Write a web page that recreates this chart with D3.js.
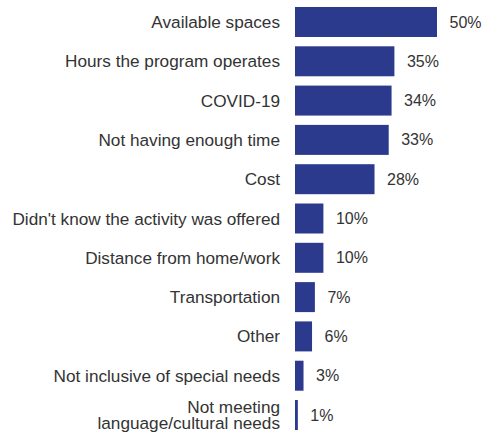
<!DOCTYPE html>
<html><head><meta charset="utf-8">
<script src="https://cdn.jsdelivr.net/npm/d3@7"></script>
<style>body{margin:0;background:#fff}svg{display:block}</style>
</head><body>
<script>
const categories = ["Available spaces","Hours the program operates","COVID-19","Not having enough time","Cost","Didn't know the activity was offered","Distance from home/work","Transportation","Other","Not inclusive of special needs","Not meeting\nlanguage/cultural needs"];
const values = [50,35,34,33,28,10,10,7,6,3,1];
const labels = ["50%","35%","34%","33%","28%","10%","10%","7%","6%","3%","1%"];

const W=485,H=433;
const svg=d3.select("body").append("svg").attr("width",W).attr("height",H);
const x=d3.scaleLinear().domain([0,50]).range([295,437]);
const y=d3.scaleBand().domain(categories).range([2.35,434.65]).paddingInner(0.237).paddingOuter(0.118);
const color="#2b3a8c";
const font="'Liberation Sans', Arial, sans-serif";

svg.selectAll("rect").data(values).join("rect")
  .attr("x",x(0)).attr("y",(d,i)=>y(categories[i]))
  .attr("width",d=>x(d)-x(0)).attr("height",y.bandwidth()).attr("fill",color);

svg.selectAll("text.val").data(values).join("text").attr("class","val")
  .attr("x",d=>x(d)+12.5).attr("y",(d,i)=>y(categories[i])+y.bandwidth()/2)
  .attr("dy","0.35em").attr("font-family",font).attr("font-size",16).attr("fill","#333")
  .text((d,i)=>labels[i]);

const cat=svg.selectAll("text.cat").data(categories).join("text").attr("class","cat")
  .attr("x",280).attr("text-anchor","end").attr("font-family",font).attr("font-size",17.2).attr("fill","#333");
cat.each(function(d){
  const lines=d.split("\n");
  const cy=y(d)+y.bandwidth()/2;
  const lh=16;
  lines.forEach((l,k)=>{
    d3.select(this).append("tspan").attr("x",280)
      .attr("y",cy+(k-(lines.length-1)/2)*lh).attr("dy","0.35em").text(l);
  });
});
</script>
</body></html>
